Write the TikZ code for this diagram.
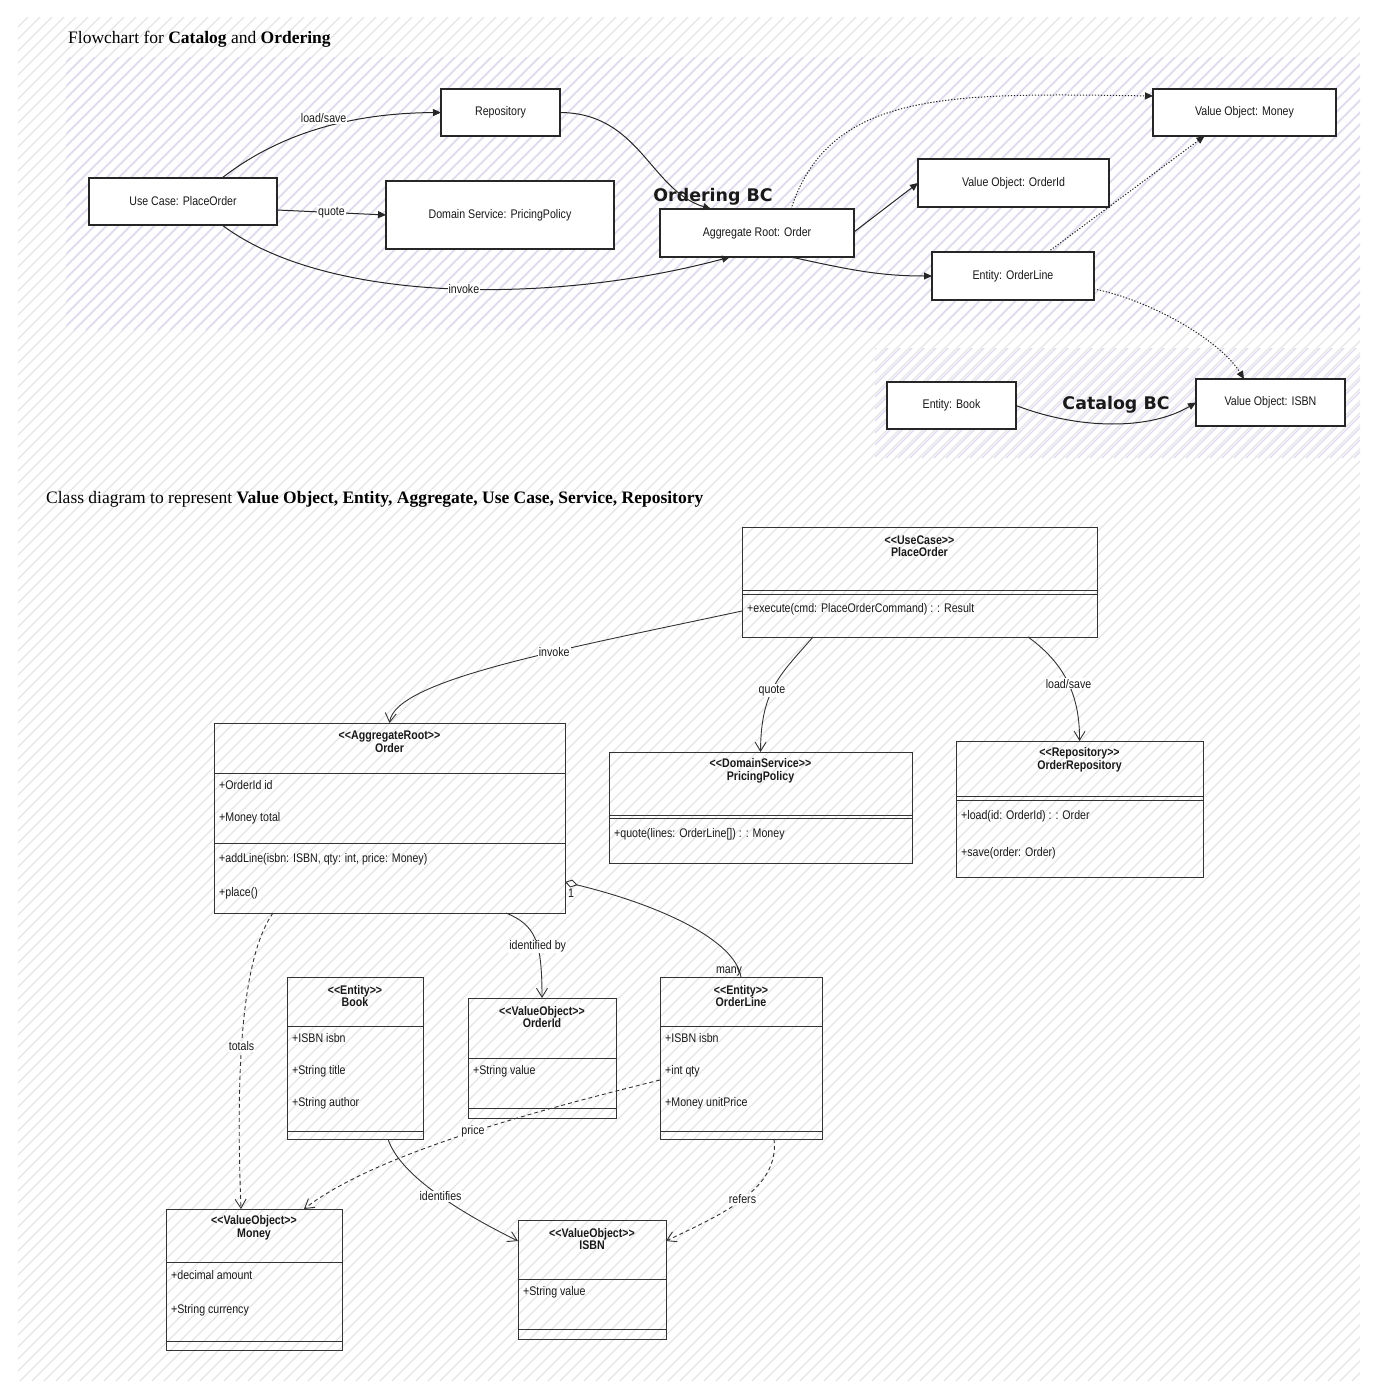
\documentclass[tikz,border=0pt]{standalone}
\usepackage{fontspec}
\setmainfont{Liberation Serif}
\newfontfamily\sfA{Liberation Sans}[FakeStretch=0.85]
\newfontfamily\bcF{DejaVu Sans}
\usetikzlibrary{arrows.meta,calc}
\definecolor{hatchgray}{RGB}{228,228,228}
\definecolor{hatchpurple}{RGB}{224,216,240}
\newcommand\gl{\textless\kern0pt\textless}
\newcommand\gr{\textgreater\kern0pt\textgreater}
\newcommand\clshead[4]{\node[chead] (#1) at ($(#2.north)+(0,19)$) {\gl #3\gr\\#4};}
\newcommand\clsattr[4]{\node[ctxt] (#1) at ($(#2.north west)+(5,#3)$) {#4};}
\newcommand\clssep[2]{\draw[cline] ($(#1.north west)+(0,#2)$) -- ($(#1.north east)+(0,#2)$);}
\begin{document}
\begin{tikzpicture}[x=1pt,y=-1pt,
  fbox/.style={draw=black!85,line width=2pt,fill=white,inner sep=0pt,outer sep=0pt,font=\sfA\fontsize{12.5}{14}\selectfont,text=black!90},
  cbox/.style={draw=black!80,line width=0.9pt,inner sep=0pt,outer sep=0pt},
  cline/.style={draw=black!80,line width=0.9pt},
  chead/.style={font=\sfA\bfseries\fontsize{12.5}{12.5}\selectfont,align=center,inner sep=0pt,text=black!90},
  ctxt/.style={font=\sfA\fontsize{12.5}{14}\selectfont,anchor=west,inner sep=0pt,text=black!90},
  lbl/.style={font=\sfA\fontsize{12.5}{14}\selectfont,fill=white,inner sep=1pt,text=black!90},
  cmult/.style={font=\sfA\fontsize{12.5}{14}\selectfont,inner sep=0pt,text=black!90},
  fedge/.style={draw=black!85,line width=1pt,-{Triangle[length=8pt,width=7pt]}},
  fdot/.style={fedge,dash pattern=on 1.3pt off 1.7pt},
  cedge/.style={draw=black!80,line width=0.9pt,-{Straight Barb[length=9pt,width=11pt]}},
  cdash/.style={cedge,dash pattern=on 4pt off 3pt},
  cagg/.style={draw=black!80,line width=0.9pt,{Diamond[open,length=13pt,width=8pt]}-},
  grp/.style={font=\bcF\bfseries\fontsize{17.4}{20}\selectfont,inner sep=0pt,text=black!90},
  ttl/.style={font=\fontsize{17.5}{20}\selectfont,anchor=west,inner sep=0pt}
]
\useasboundingbox (0,0) rectangle (1379,1400);
% background hatch
\begin{scope}
\clip (18,17) rectangle (1360,1381);
\foreach \a in {-1360,-1348,...,1360} \draw[hatchgray,line width=1.2pt] (\a,1381) -- ++(1364,-1364);
\end{scope}
\begin{scope}
\clip (66,57) rectangle (1360,330);
\foreach \a in {-214,-202,...,1360} \draw[hatchpurple,line width=1.2pt] (\a,330) -- ++(300,-300);
\end{scope}
\begin{scope}
\clip (875,348) rectangle (1360,458);
\foreach \a in {754,766,...,1360} \draw[hatchpurple,line width=1.2pt] (\a,458) -- ++(120,-120);
\end{scope}

% titles
\node[ttl] (title1) at (68,39) {Flowchart for \textbf{Catalog} and \textbf{Ordering}};
\node[ttl] (title2) at (46,499) {Class diagram to represent \textbf{Value Object, Entity, Aggregate, Use Case, Service, Repository}};

% flowchart nodes
\node[fbox,minimum width=188pt,minimum height=47pt] (fuc) at (183,201.5) {Use Case: PlaceOrder};
\node[fbox,minimum width=119pt,minimum height=47pt] (frepo) at (500.5,112.5) {Repository};
\node[fbox,minimum width=228pt,minimum height=68pt] (fpp) at (500,215) {Domain Service: PricingPolicy};
\node[fbox,minimum width=194pt,minimum height=48pt] (fagg) at (757,233) {Aggregate Root: Order};
\node[fbox,minimum width=183pt,minimum height=47pt] (fmoney) at (1244.5,112.5) {Value Object: Money};
\node[fbox,minimum width=191pt,minimum height=48pt] (foid) at (1013.5,183) {Value Object: OrderId};
\node[fbox,minimum width=162pt,minimum height=48pt] (fol) at (1013,276) {Entity: OrderLine};
\node[fbox,minimum width=129pt,minimum height=47pt] (fbook) at (951.5,405.5) {Entity: Book};
\node[fbox,minimum width=149pt,minimum height=47pt] (fisbn) at (1270.5,402.5) {Value Object: ISBN};

\node[grp] (gord) at (713,197) {Ordering BC};
\node[grp] (gcat) at (1116,405) {Catalog BC};

% flowchart edges
\draw[fedge] ($(fuc.north)+(39,0)$) .. controls (290,125) and (370,113) .. (frepo.west) node[lbl,pos=0.47,yshift=9pt] (lf1) {load/save};
\draw[fedge] ($(fuc.east)+(0,8.5)$) -- (fpp.west) node[lbl,midway] (lf2) {quote};
\draw[fedge] ($(fuc.south)+(39,0)$) .. controls (330,306) and (560,303) .. ($(fagg.south)+(-27,0)$) node[lbl,pos=0.52] (lf3) {invoke};
\draw[fedge] (frepo.east) .. controls (640,113) and (650,190) .. ($(fagg.north)+(-46,0)$);
\draw[fdot] ($(fagg.north)+(34,0)$) .. controls (830,90) and (950,93) .. ($(fmoney.west)+(0,-16.5)$);
\draw[fedge] ($(fagg.east)+(0,-1)$) -- (foid.west);
\draw[fedge] ($(fagg.south)+(34,0)$) .. controls (850,270) and (880,276) .. (fol.west);
\draw[fdot] ($(fol.north)+(35,0)$) -- ($(fmoney.south)+(-40,0)$);
\draw[fdot] ($(fol.east)+(0,13)$) .. controls (1150,300) and (1220,340) .. ($(fisbn.north)+(-26.5,0)$);
\draw[fedge] (fbook.east) .. controls (1080,430) and (1150,430) .. (fisbn.west);

% class boxes
\node[cbox,minimum width=355pt,minimum height=110pt] (cuc) at (919.5,582) {};
\clshead{cuch}{cuc}{UseCase}{PlaceOrder}
\clssep{cuc}{63}\clssep{cuc}{67}
\clsattr{cuc1}{cuc}{82}{+execute(cmd: PlaceOrderCommand) : : Result}

\node[cbox,minimum width=351pt,minimum height=190pt] (corder) at (389.5,818) {};
\clshead{corderh}{corder}{AggregateRoot}{Order}
\clssep{corder}{50}\clssep{corder}{120}
\clsattr{corder1}{corder}{62}{+OrderId id}
\clsattr{corder2}{corder}{95}{+Money total}
\clsattr{corder3}{corder}{136}{+addLine(isbn: ISBN, qty: int, price: Money)}
\clsattr{corder4}{corder}{170}{+place()}

\node[cbox,minimum width=303pt,minimum height=111pt] (cpp) at (760.5,807.5) {};
\clshead{cpph}{cpp}{DomainService}{PricingPolicy}
\clssep{cpp}{63}\clssep{cpp}{66}
\clsattr{cpp1}{cpp}{82}{+quote(lines: OrderLine[]) : : Money}

\node[cbox,minimum width=247pt,minimum height=136pt] (crepo) at (1079.5,809) {};
\clshead{crepoh}{crepo}{Repository}{OrderRepository}
\clssep{crepo}{55}\clssep{crepo}{59}
\clsattr{crepo1}{crepo}{75}{+load(id: OrderId) : : Order}
\clsattr{crepo2}{crepo}{112}{+save(order: Order)}

\node[cbox,minimum width=136pt,minimum height=162pt] (cbook) at (355,1058) {};
\clshead{cbookh}{cbook}{Entity}{Book}
\clssep{cbook}{49}\clssep{cbook}{154}
\clsattr{cbook1}{cbook}{61}{+ISBN isbn}
\clsattr{cbook2}{cbook}{94}{+String title}
\clsattr{cbook3}{cbook}{126}{+String author}

\node[cbox,minimum width=148pt,minimum height=120pt] (coid) at (542,1058) {};
\clshead{coidh}{coid}{ValueObject}{OrderId}
\clssep{coid}{60}\clssep{coid}{110}
\clsattr{coid1}{coid}{73}{+String value}

\node[cbox,minimum width=162pt,minimum height=162pt] (col) at (741,1058) {};
\clshead{colh}{col}{Entity}{OrderLine}
\clssep{col}{49}\clssep{col}{154}
\clsattr{col1}{col}{61}{+ISBN isbn}
\clsattr{col2}{col}{94}{+int qty}
\clsattr{col3}{col}{126}{+Money unitPrice}

\node[cbox,minimum width=176pt,minimum height=141pt] (cmoney) at (254,1279.5) {};
\clshead{cmoneyh}{cmoney}{ValueObject}{Money}
\clssep{cmoney}{53}\clssep{cmoney}{132}
\clsattr{cmoney1}{cmoney}{66}{+decimal amount}
\clsattr{cmoney2}{cmoney}{101}{+String currency}

\node[cbox,minimum width=148pt,minimum height=119pt] (cisbn) at (592,1279.5) {};
\clshead{cisbnh}{cisbn}{ValueObject}{ISBN}
\clssep{cisbn}{59}\clssep{cisbn}{109}
\clsattr{cisbn1}{cisbn}{72}{+String value}

% class edges
\draw[cedge] ($(cuc.west)+(0,29)$) .. controls (560,650) and (395,680) .. (corder.north) node[lbl,pos=0.37] (lc1) {invoke};
\draw[cedge] ($(cuc.south)+(-106.5,0)$) .. controls (780,675) and (761,690) .. (cpp.north) node[lbl,pos=0.55] (lc2) {quote};
\draw[cedge] ($(cuc.south)+(108.5,0)$) .. controls (1060,660) and (1080,690) .. (crepo.north) node[lbl,pos=0.55] (lc3) {load/save};
\draw[cdash] ($(corder.south)+(-116.5,0)$) .. controls (240,960) and (236,1080) .. ($(cmoney.north)+(-13,0)$) node[lbl,pos=0.55] (lc4) {totals};
\draw[cedge] ($(corder.south)+(116.5,0)$) .. controls (535,925) and (542,940) .. (coid.north) node[lbl,pos=0.6] (lc5) {identified by};
\draw[cagg] ($(corder.east)+(0,64)$) .. controls (660,905) and (735,940) .. (col.north);
\node[cmult] (m1) at (571,893) {1};
\node[cmult] (m2) at (729,971) {many};
\draw[cdash] ($(col.west)+(0,22)$) .. controls (560,1105) and (380,1150) .. ($(cmoney.north)+(50,0)$) node[lbl,pos=0.5] (lc6) {price};
\draw[cedge] ($(cbook.south)+(33,0)$) .. controls (398,1170) and (445,1205) .. ($(cisbn.west)+(0,-38.5)$) node[lbl,pos=0.58] (lc7) {identifies};
\draw[cdash] ($(col.south)+(33,0)$) .. controls (780,1190) and (720,1215) .. ($(cisbn.east)+(0,-38.5)$) node[lbl,pos=0.5] (lc8) {refers};
\end{tikzpicture}
\end{document}
